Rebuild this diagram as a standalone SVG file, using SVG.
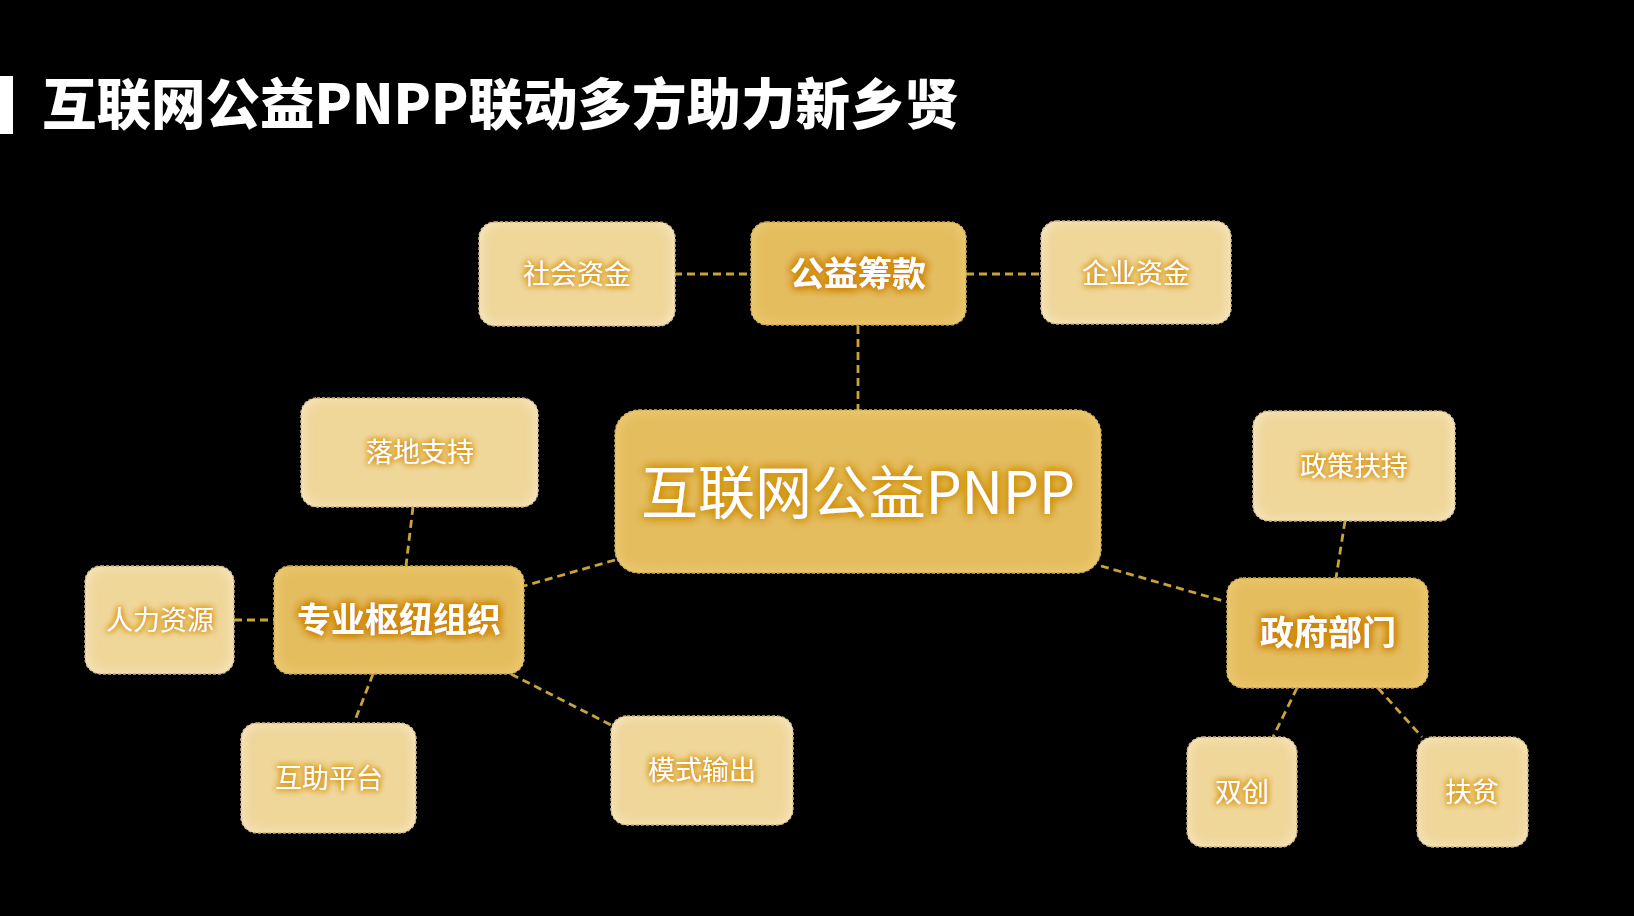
<svg xmlns="http://www.w3.org/2000/svg" width="1634" height="916" viewBox="0 0 1634 916">
<defs>
<style>
.light{fill:#efd699;stroke:#a8862a;stroke-width:1.3;stroke-dasharray:3 2;filter:url(#igL)}
.dark{fill:#e4bd5e;stroke:#a8862a;stroke-width:1.3;stroke-dasharray:3 2;filter:url(#igD)}
.tl{font-family:"Noto Sans CJK SC","Noto Sans",sans-serif;font-size:27px;fill:#ffffff;text-anchor:middle;filter:url(#glowS)}
.tb{font-family:"Noto Sans CJK SC","Noto Sans",sans-serif;font-size:34px;font-weight:700;fill:#ffffff;text-anchor:middle;filter:url(#glowB)}
.conn line{stroke:#c9a33a;stroke-width:2.8;stroke-dasharray:8 5;fill:none}
</style>
<filter id="igL" x="-5%" y="-5%" width="110%" height="110%">
<feFlood flood-color="#fbf0d2"/>
<feComposite in2="SourceAlpha" operator="out"/>
<feGaussianBlur stdDeviation="7"/>
<feComposite in2="SourceAlpha" operator="in" result="glow"/>
<feMerge><feMergeNode in="SourceGraphic"/><feMergeNode in="glow"/></feMerge>
</filter>
<filter id="igD" x="-5%" y="-5%" width="110%" height="110%">
<feFlood flood-color="#f0d17e"/>
<feComposite in2="SourceAlpha" operator="out"/>
<feGaussianBlur stdDeviation="7"/>
<feComposite in2="SourceAlpha" operator="in" result="glow"/>
<feMerge><feMergeNode in="SourceGraphic"/><feMergeNode in="glow"/></feMerge>
</filter>
<filter id="glowS" x="-20%" y="-50%" width="140%" height="200%">
<feGaussianBlur in="SourceAlpha" stdDeviation="3.2" result="b"/>
<feFlood flood-color="#d9981a"/>
<feComposite in2="b" operator="in" result="g"/>
<feMerge><feMergeNode in="g"/><feMergeNode in="g"/><feMergeNode in="g"/><feMergeNode in="SourceGraphic"/></feMerge>
</filter>
<filter id="glowB" x="-20%" y="-60%" width="140%" height="220%">
<feGaussianBlur in="SourceAlpha" stdDeviation="4.5" result="b"/>
<feFlood flood-color="#cf8600"/>
<feComposite in2="b" operator="in" result="g"/>
<feMerge><feMergeNode in="g"/><feMergeNode in="g"/><feMergeNode in="g"/><feMergeNode in="g"/><feMergeNode in="SourceGraphic"/></feMerge>
</filter>
<filter id="glowC" x="-10%" y="-40%" width="120%" height="180%">
<feGaussianBlur in="SourceAlpha" stdDeviation="5" result="b"/>
<feFlood flood-color="#d0900c"/>
<feComposite in2="b" operator="in" result="g"/>
<feMerge><feMergeNode in="g"/><feMergeNode in="g"/><feMergeNode in="g"/><feMergeNode in="SourceGraphic"/></feMerge>
</filter>
</defs>
<rect x="0" y="0" width="1634" height="916" fill="#000000"/>
<g id="title">
<rect x="0" y="76" width="13" height="58" fill="#ffffff"/>
<text x="42" y="124" font-family="'Noto Sans CJK SC','Noto Sans',sans-serif" font-size="55" font-weight="900" fill="#ffffff" textLength="917" lengthAdjust="spacingAndGlyphs">互联网公益PNPP联动多方助力新乡贤</text>
</g>
<g id="connectors" class="conn">
<line x1="674" y1="274" x2="751" y2="274"/>
<line x1="966" y1="274" x2="1041" y2="274"/>
<line x1="858" y1="326" x2="858" y2="410"/>
<line x1="615" y1="560" x2="524" y2="586"/>
<line x1="413" y1="507" x2="406" y2="566"/>
<line x1="234" y1="620" x2="274" y2="620"/>
<line x1="373" y1="674" x2="354" y2="723"/>
<line x1="511" y1="674" x2="611" y2="725"/>
<line x1="1101" y1="566" x2="1227" y2="602"/>
<line x1="1345" y1="521" x2="1336" y2="578"/>
<line x1="1297" y1="688" x2="1273" y2="737"/>
<line x1="1378" y1="688" x2="1422" y2="737"/>
</g>
<g id="node-shehui">
<rect class="light" x="479" y="222" width="196" height="104" rx="16"/>
<text class="tl" x="577" y="284">社会资金</text>
</g>
<g id="node-gongyi">
<rect class="dark" x="751" y="222" width="215" height="103" rx="16"/>
<text class="tb" x="858" y="286">公益筹款</text>
</g>
<g id="node-qiye">
<rect class="light" x="1041" y="221" width="190" height="103" rx="16"/>
<text class="tl" x="1136" y="283">企业资金</text>
</g>
<g id="node-center">
<rect class="dark" x="615" y="410" width="486" height="163" rx="24"/>
<text x="858" y="514" font-family="'Noto Sans CJK SC','Noto Sans',sans-serif" font-size="58" fill="#ffffff" text-anchor="middle" textLength="434" lengthAdjust="spacingAndGlyphs" filter="url(#glowC)">互联网公益PNPP</text>
</g>
<g id="node-luodi">
<rect class="light" x="301" y="398" width="237" height="109" rx="16"/>
<text class="tl" x="420" y="462">落地支持</text>
</g>
<g id="node-renli">
<rect class="light" x="85" y="566" width="149" height="108" rx="16"/>
<text class="tl" x="160" y="630">人力资源</text>
</g>
<g id="node-zhuanye">
<rect class="dark" x="274" y="566" width="250" height="108" rx="16"/>
<text class="tb" x="399" y="632">专业枢纽组织</text>
</g>
<g id="node-huzhu">
<rect class="light" x="241" y="723" width="175" height="110" rx="16"/>
<text class="tl" x="329" y="788">互助平台</text>
</g>
<g id="node-moshi">
<rect class="light" x="611" y="716" width="182" height="109" rx="16"/>
<text class="tl" x="702" y="780">模式输出</text>
</g>
<g id="node-zhengce">
<rect class="light" x="1253" y="411" width="202" height="110" rx="16"/>
<text class="tl" x="1354" y="476">政策扶持</text>
</g>
<g id="node-zhengfu">
<rect class="dark" x="1227" y="578" width="201" height="110" rx="16"/>
<text class="tb" x="1328" y="645">政府部门</text>
</g>
<g id="node-shuangchuang">
<rect class="light" x="1187" y="737" width="110" height="110" rx="16"/>
<text class="tl" x="1242" y="802">双创</text>
</g>
<g id="node-fupin">
<rect class="light" x="1417" y="737" width="111" height="110" rx="16"/>
<text class="tl" x="1472" y="802">扶贫</text>
</g>
</svg>
